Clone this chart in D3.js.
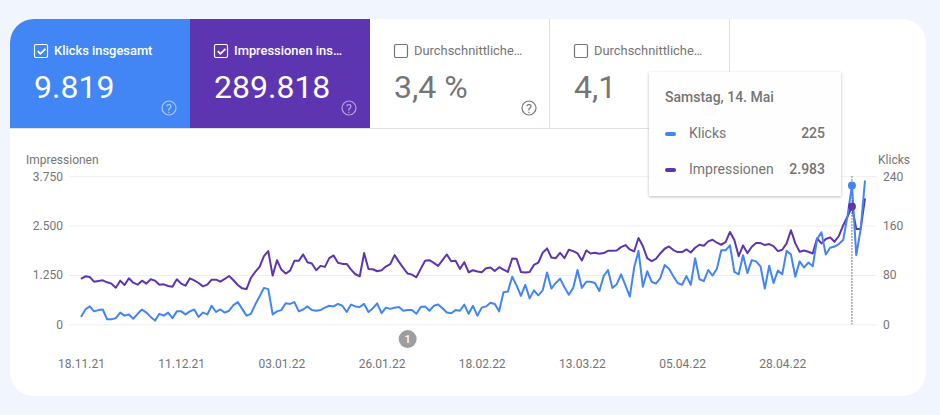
<!DOCTYPE html>
<html><head><meta charset="utf-8">
<script src="https://cdn.jsdelivr.net/npm/d3@7/dist/d3.min.js"></script>
<style>html,body{margin:0;padding:0;background:#f1f5fe}svg{display:block}text{font-family:Roboto,sans-serif}</style>
</head><body><svg id="c" width="940" height="415"></svg>
<script>
const xTickLabels=["18.11.21","11.12.21","03.01.22","26.01.22","18.02.22","13.03.22","05.04.22","28.04.22"];
const startDate="18.11.21";
const hoverDate="14.05.22";
const annotationDate="01.02.22";
const impressionTicks=[0,1250,2500,3750];
const clickTicks=[0,80,160,240];
const impressions=[1148,1216,1199,1080,1097,1114,1063,1029,927,1105,995,1165,1054,1003,1105,1029,1139,1105,1003,1012,969,952,1139,1029,978,1165,1114,1046,961,1003,1131,1131,1080,1148,1224,1114,995,910,893,1173,1326,1454,1726,1854,1233,1624,1386,1284,1360,1607,1607,1769,1573,1539,1369,1480,1454,1675,
1743,1556,1530,1530,1386,1267,1216,1803,1403,1394,1343,1369,1462,1522,1751,1581,1428,1284,1258,1190,1403,1607,1624,1556,1479,1624,1768,1598,1607,1403,1573,1318,1369,1335,1318,1420,1437,1352,1445,1386,1326,1666,1658,1326,1309,1326,1505,1564,1811,1921,1692,1675,1811,1675,1887,1853,1794,1615,1870,1794,1811,
1785,1803,1862,1862,1870,1955,2006,1896,1845,2185,1981,1675,1598,1658,1794,1913,1972,1879,1828,1828,1896,1819,1938,2015,1989,2100,2142,2066,2015,2083,2338,2134,1726,1998,1803,1964,2057,2057,2006,2032,1981,1853,1887,2049,2380,2049,1836,1870,1836,1794,2176,2049,2159,2202,2091,2236,2508,2729,2983,2414,2414,3188];
const clicks=[12,24,29,21,23,24,8,8,10,19,14,16,9,17,24,19,12,6,17,14,19,10,21,21,16,21,24,12,19,16,30,20,24,19,22,31,36,25,14,17,32,45,59,57,16,21,23,34,33,36,21,24,29,23,22,23,27,30,
29,33,30,20,32,29,28,33,20,26,34,18,27,25,27,28,22,23,23,17,28,29,22,30,32,26,19,18,23,22,32,17,30,14,27,29,35,33,21,52,53,77,63,46,64,42,55,47,55,84,58,67,74,60,48,59,88,59,69,69,67,
54,78,88,59,65,81,63,45,92,119,61,86,69,66,75,96,90,78,67,64,78,64,107,73,70,88,79,90,120,120,128,85,81,112,83,104,102,94,58,95,67,87,81,119,113,77,102,92,100,94,138,149,113,124,126,130,137,176,225,112,154,233];
const tileChecks=["Klicks insgesamt","Impressionen ins…","Durchschnittliche…","Durchschnittliche…"];
const tileValues=["9.819","289.818","3,4 %","4,1"];
const tooltipTitle="Samstag, 14. Mai";
const tooltipRows=[["Klicks","225"],["Impressionen","2.983"]];

const BLUE="#4285f4",PURPLE="#5e35b1",GREY="#757575",LINE="#e0e0e0";
const parse=d3.utcParse("%d.%m.%y");
const dates=impressions.map((_,i)=>d3.utcDay.offset(parse(startDate),i));
const svg=d3.select("#c");

// card
const defs=svg.append("defs");
defs.append("clipPath").attr("id","card").append("rect").attr("x",10).attr("y",19).attr("width",916).attr("height",377).attr("rx",24);
const sh=defs.append("filter").attr("id","sh").attr("x","-10%").attr("y","-10%").attr("width","120%").attr("height","125%");
sh.append("feDropShadow").attr("dx",0).attr("dy",1).attr("stdDeviation",1.6).attr("flood-color","#000").attr("flood-opacity",0.28);
const card=svg.append("g").attr("clip-path","url(#card)");
card.append("rect").attr("x",10).attr("y",19).attr("width",916).attr("height",377).attr("fill","#fff");

// tiles
const tileX=d3.scaleLinear().domain([0,1]).range([10,190]);
const tile=card.selectAll("g.tile").data(tileChecks).join("g").attr("class","tile").attr("transform",(d,i)=>`translate(${tileX(i)},19)`);
card.append("line").attr("x1",10).attr("x2",730).attr("y1",128.5).attr("y2",128.5).attr("stroke",LINE);
tile.append("rect").attr("width",180).attr("height",110).attr("fill",(d,i)=>i==0?BLUE:i==1?PURPLE:"none");
tile.filter((d,i)=>i>1).append("line").attr("x1",179.5).attr("x2",179.5).attr("y1",0).attr("y2",110).attr("stroke",LINE);
const fg=i=>i<2?"#fff":GREY;
tile.append("rect").attr("x",24.5).attr("y",25.5).attr("width",13).attr("height",13).attr("rx",1.5).attr("fill","none").attr("stroke",(d,i)=>fg(i)).attr("stroke-width",1.2);
tile.filter((d,i)=>i<2).append("path").attr("d","M27.8 32.2l2.6 2.6 5-5").attr("fill","none").attr("stroke","#fff").attr("stroke-width",1.8);
tile.append("text").attr("x",44).attr("y",36).attr("font-size",12.9).attr("font-weight",(d,i)=>i<2?500:400).attr("fill",(d,i)=>i<2?"#fff":GREY).text(d=>d);
tile.append("text").attr("x",24).attr("y",79).attr("font-size",32).attr("fill",(d,i)=>fg(i)).text((d,i)=>tileValues[i]);
const q=tile.append("g").attr("opacity",(d,i)=>i<2?0.55:1);
q.append("circle").attr("cx",159).attr("cy",89).attr("r",7).attr("fill","none").attr("stroke",(d,i)=>fg(i)).attr("stroke-width",1.2);
q.append("text").attr("x",159).attr("y",93.5).attr("text-anchor","middle").attr("font-size",12.5).attr("fill",(d,i)=>fg(i)).text("?");

// scales
const x=d3.scaleUtc().domain([dates[0],dates[dates.length-1]]).range([81,865]);
const yL=d3.scaleLinear().domain([0,3750]).range([324.3,176.2]);
const yR=d3.scaleLinear().domain([0,240]).range([324.3,176.2]);
const axisStyle=g=>{g.select(".domain").remove();g.selectAll("text").attr("fill",GREY).attr("font-size",12);};

const fmt=d3.formatLocale({decimal:",",thousands:".",grouping:[3],currency:["","€"]}).format(",d");
svg.append("g").attr("transform","translate(69,0)")
 .call(d3.axisLeft(yL).tickValues(impressionTicks).tickFormat(fmt).tickSize(-807).tickPadding(6))
 .call(axisStyle).call(g=>g.selectAll("line").attr("stroke","#eeeeee"));
svg.append("g").attr("transform","translate(876,0)")
 .call(d3.axisRight(yR).tickValues(clickTicks).tickSize(0).tickPadding(7))
 .call(axisStyle);
svg.append("g").attr("transform","translate(0,353)")
 .call(d3.axisBottom(x).tickValues(xTickLabels.map(parse)).tickFormat(d3.utcFormat("%d.%m.%y")).tickSize(0).tickPadding(6))
 .call(axisStyle);
svg.append("text").attr("x",26).attr("y",164).attr("font-size",12).attr("fill",GREY).text("Impressionen");
svg.append("text").attr("x",910).attr("y",164).attr("text-anchor","end").attr("font-size",12).attr("fill",GREY).text("Klicks");

// annotation
const ax=x(parse(annotationDate));
svg.append("circle").attr("cx",ax).attr("cy",339).attr("r",9).attr("fill","#9e9e9e");
svg.append("text").attr("x",ax).attr("y",343).attr("text-anchor","middle").attr("font-size",11).attr("font-weight",500).attr("fill","#fff").text("1");

// lines
const hi=dates.findIndex(d=>+d==+parse(hoverDate));
svg.append("line").attr("x1",x(dates[hi])).attr("x2",x(dates[hi])).attr("y1",yL(3750)).attr("y2",yL(0)).attr("stroke","#555").attr("stroke-dasharray","1.5 1.5");
svg.append("path").attr("fill","none").attr("stroke",PURPLE).attr("stroke-width",2).attr("stroke-linejoin","round")
 .attr("d",d3.line().x((d,i)=>x(dates[i])).y(d=>yL(d))(impressions));
svg.append("path").attr("fill","none").attr("stroke",BLUE).attr("stroke-width",2).attr("stroke-linejoin","round")
 .attr("d",d3.line().x((d,i)=>x(dates[i])).y(d=>yR(d))(clicks));
svg.append("circle").attr("cx",x(dates[hi])).attr("cy",yR(clicks[hi])).attr("r",4).attr("fill",BLUE);
svg.append("circle").attr("cx",x(dates[hi])).attr("cy",yL(impressions[hi])).attr("r",4).attr("fill",PURPLE);

// tooltip
const tip=svg.append("g").attr("transform","translate(649,72)");
tip.append("rect").attr("width",192).attr("height",124).attr("fill","#fff").attr("fill-opacity",0.95).attr("filter","url(#sh)");
tip.append("text").attr("x",16).attr("y",30).attr("font-size",14).attr("font-weight",500).attr("fill",GREY).text(tooltipTitle);
const rows=tip.selectAll("g.r").data(tooltipRows).join("g").attr("class","r").attr("transform",(d,i)=>`translate(0,${i*36+66})`);
rows.append("rect").attr("x",16).attr("y",-6).attr("width",11).attr("height",4).attr("rx",2).attr("fill",(d,i)=>i==0?BLUE:PURPLE);
rows.append("text").attr("x",40).attr("font-size",14).attr("fill",GREY).text(d=>d[0]);
rows.append("text").attr("x",176).attr("text-anchor","end").attr("font-size",14).attr("font-weight",500).attr("fill",GREY).text(d=>d[1]);
</script></body></html>
